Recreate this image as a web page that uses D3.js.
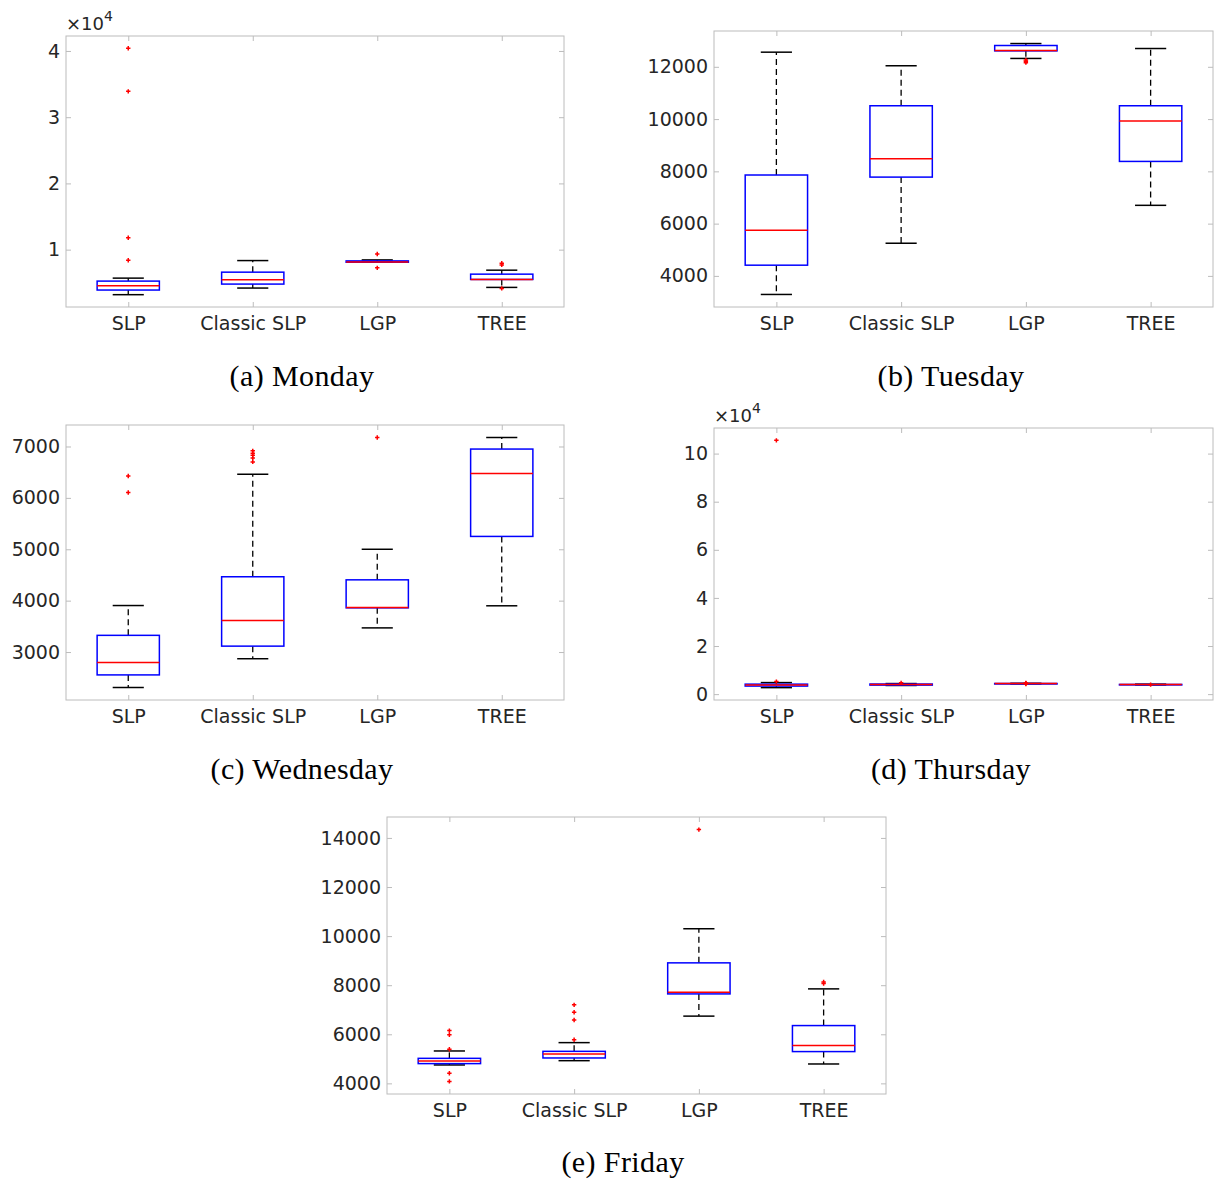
<!DOCTYPE html>
<html><head><meta charset="utf-8">
<script src="https://cdnjs.cloudflare.com/ajax/libs/d3/7.8.5/d3.min.js"></script>
<style>body{margin:0;background:#fff}</style>
</head><body>
<svg id="chart" width="1214" height="1180"></svg>
<script>
const categories = ["SLP", "Classic SLP", "LGP", "TREE"];

// Monday
const monLow  = [3200, 4200, 8100, 4300];
const monQ1   = [3900, 4800, 8100, 5500];
const monMed  = [4550, 5450, 8150, 5500];
const monQ3   = [5250, 6600, 8300, 6300];
const monHigh = [5700, 8350, 8450, 6900];
const monOut  = [[40400, 33900, 11800, 8400], [], [9350, 7250], [7950, 7700, 4150]];
const monTicks = [10000, 20000, 30000, 40000];

// Tuesday
const tueLow  = [3290, 5250, 12320, 6700];
const tueQ1   = [4410, 7780, 12610, 8380];
const tueMed  = [5745, 8485, 12625, 9925];
const tueQ3   = [7860, 10510, 12815, 10510];
const tueHigh = [12560, 12040, 12890, 12700];
const tueOut  = [[], [], [12260, 12210, 12160], []];
const tueTicks = [4000, 6000, 8000, 10000, 12000];

// Wednesday
const wedLow  = [2310, 2870, 3470, 3900];
const wedQ1   = [2555, 3115, 3860, 5250];
const wedMed  = [2795, 3615, 3865, 6475];
const wedQ3   = [3325, 4465, 4405, 6950];
const wedHigh = [3905, 6460, 5000, 7175];
const wedOut  = [[6425, 6105], [6915, 6870, 6830, 6775, 6700], [7175], []];
const wedTicks = [3000, 4000, 5000, 6000, 7000];

// Thursday
const thuLow  = [2700, 3600, 4300, 3850];
const thuQ1   = [3350, 3750, 4390, 3990];
const thuMed  = [3750, 4000, 4400, 4000];
const thuQ3   = [4150, 4200, 4420, 4030];
const thuHigh = [4800, 4400, 4500, 4150];
const thuOut  = [[105500, 5200], [4700], [4650, 4500, 4200], [3950]];
const thuTicks = [0, 20000, 40000, 60000, 80000, 100000];

// Friday
const friLow  = [4750, 4925, 6740, 4790];
const friQ1   = [4805, 5035, 7645, 5295];
const friMed  = [4910, 5195, 7715, 5540];
const friQ3   = [5020, 5305, 8910, 6355];
const friHigh = [5320, 5660, 10300, 7850];
const friOut  = [[6150, 5980, 5390, 4410, 4080], [7200, 6900, 6585, 5780], [14340], [8135, 8065]];
const friTicks = [4000, 6000, 8000, 10000, 12000, 14000];

const captions = ["(a) Monday", "(b) Tuesday", "(c) Wednesday", "(d) Thursday", "(e) Friday"];

const panels = [
  {cap: captions[0], low: monLow, q1: monQ1, med: monMed, q3: monQ3, high: monHigh, out: monOut, ticks: monTicks, exp: 4,
   x: 66, y: 36, w: 498, h: 271, capX: 302, capY: 379},
  {cap: captions[1], low: tueLow, q1: tueQ1, med: tueMed, q3: tueQ3, high: tueHigh, out: tueOut, ticks: tueTicks, exp: 0,
   x: 714, y: 31, w: 499, h: 276, capX: 951, capY: 379},
  {cap: captions[2], low: wedLow, q1: wedQ1, med: wedMed, q3: wedQ3, high: wedHigh, out: wedOut, ticks: wedTicks, exp: 0,
   x: 66, y: 425, w: 498, h: 275, capX: 302, capY: 772},
  {cap: captions[3], low: thuLow, q1: thuQ1, med: thuMed, q3: thuQ3, high: thuHigh, out: thuOut, ticks: thuTicks, exp: 4,
   x: 714, y: 428, w: 499, h: 272, capX: 951, capY: 772},
  {cap: captions[4], low: friLow, q1: friQ1, med: friMed, q3: friQ3, high: friHigh, out: friOut, ticks: friTicks, exp: 0,
   x: 387, y: 817, w: 499, h: 277, capX: 623, capY: 1165}
];

const svg = d3.select("#chart");
const textColor = "#262626";
const axisColor = "#bcbcbc";

panels.forEach(p => {
  const g = svg.append("g").attr("transform", `translate(${p.x},${p.y})`);
  const allVals = p.low.concat(p.high, p.out.flat());
  const mn = d3.min(allVals), mx = d3.max(allVals);
  const pad = (mx - mn) * 0.05;
  const y = d3.scaleLinear().domain([mn - pad, mx + pad]).range([p.h, 0]);
  const x = d3.scalePoint().domain(categories).range([0, p.w]).padding(0.5);
  const step = x.step();
  const bw = step * 0.5, cw = step * 0.25;
  const div = Math.pow(10, p.exp);

  g.append("rect").attr("width", p.w).attr("height", p.h)
    .attr("fill", "none").attr("stroke", axisColor).attr("stroke-width", 1);

  const styleAxis = (sel, showText) => {
    sel.select(".domain").remove();
    sel.selectAll(".tick line").attr("stroke", axisColor);
    sel.selectAll(".tick text").attr("fill", textColor)
      .style("font-family", "'DejaVu Sans', sans-serif").style("font-size", "19px");
    if (!showText) sel.selectAll(".tick text").remove();
  };

  g.append("g").call(d3.axisLeft(y).tickValues(p.ticks).tickSize(-5).tickPadding(6)
      .tickFormat(d => d3.format("d")(d / div))).call(s => styleAxis(s, true));
  g.append("g").attr("transform", `translate(${p.w},0)`)
    .call(d3.axisRight(y).tickValues(p.ticks).tickSize(-5)).call(s => styleAxis(s, false));
  g.append("g").attr("transform", `translate(0,${p.h})`)
    .call(d3.axisBottom(x).tickSize(-5).tickPadding(10)).call(s => styleAxis(s, true));
  g.append("g").call(d3.axisTop(x).tickSize(-5)).call(s => styleAxis(s, false));

  if (p.exp) {
    const t = g.append("text").attr("x", 0).attr("y", -6).attr("fill", textColor)
      .style("font-family", "'DejaVu Sans', sans-serif").style("font-size", "18px");
    t.append("tspan").text("\u00d710");
    t.append("tspan").attr("dy", -9).style("font-size", "14px").text(p.exp);
  }

  categories.forEach((c, i) => {
    const cx = x(c);
    const bg = g.append("g");
    bg.append("line").attr("x1", cx).attr("x2", cx).attr("y1", y(p.q3[i])).attr("y2", y(p.high[i]))
      .attr("stroke", "#000").attr("stroke-width", 1.3).attr("stroke-dasharray", "6,4");
    bg.append("line").attr("x1", cx).attr("x2", cx).attr("y1", y(p.q1[i])).attr("y2", y(p.low[i]))
      .attr("stroke", "#000").attr("stroke-width", 1.3).attr("stroke-dasharray", "6,4");
    [p.high[i], p.low[i]].forEach(v => {
      bg.append("line").attr("x1", cx - cw / 2).attr("x2", cx + cw / 2).attr("y1", y(v)).attr("y2", y(v))
        .attr("stroke", "#000").attr("stroke-width", 1.5);
    });
    bg.append("rect").attr("x", cx - bw / 2).attr("width", bw)
      .attr("y", y(p.q3[i])).attr("height", Math.max(0.5, y(p.q1[i]) - y(p.q3[i])))
      .attr("fill", "none").attr("stroke", "#0000ff").attr("stroke-width", 1.5);
    bg.append("line").attr("x1", cx - bw / 2).attr("x2", cx + bw / 2)
      .attr("y1", y(p.med[i])).attr("y2", y(p.med[i]))
      .attr("stroke", "#ff0000").attr("stroke-width", 1.5);
    p.out[i].forEach(v => {
      const yy = y(v), s = 2.2;
      bg.append("path").attr("d", `M${cx - s},${yy}H${cx + s}M${cx},${yy - s}V${yy + s}`)
        .attr("stroke", "#ff0000").attr("stroke-width", 1.5).attr("fill", "none");
    });
  });

  svg.append("text").attr("x", p.capX).attr("y", p.capY).attr("text-anchor", "middle")
    .attr("dominant-baseline", "middle").attr("fill", "#000")
    .style("font-family", "'Liberation Serif', serif").style("font-size", "30px")
    .style("letter-spacing", "0.4px")
    .text(p.cap);
});
</script></body></html>
